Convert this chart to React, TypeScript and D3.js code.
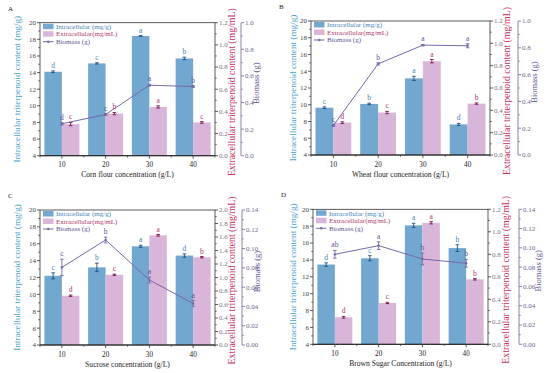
import React from "react";
import * as d3 from "d3";

// concentration levels shared by all four panels
const concentrations = [10, 20, 30, 40];
const minorX = [5, 15, 25, 35, 45];

// panel A - corn flour
const intraA = [14.1, 15.1, 18.4, 15.7];
const intraErrA = [0.1, 0.08, 0.05, 0.15];
const extraA = [0.285, 0.38, 0.44, 0.3];
const extraErrA = [0.015, 0.01, 0.01, 0.008];
const bioA = [0.24, 0.31, 0.53, 0.52];
const bioErrA = [0.008, 0.006, 0.006, 0.006];
const lettersIntraA = ["d", "c", "a", "b"];
const lettersExtraA = ["c", "b", "a", "c"];
const lettersBioA = ["d", "c", "a", "b"];

// panel B - wheat flour
const intraB = [9.65, 10.1, 13.15, 7.65];
const intraErrB = [0.1, 0.08, 0.25, 0.12];
const extraB = [0.29, 0.38, 0.84, 0.46];
const extraErrB = [0.008, 0.01, 0.015, 0.006];
const bioB = [0.22, 0.68, 0.82, 0.815];
const bioErrB = [0.006, 0.008, 0.005, 0.015];
const lettersIntraB = ["c", "b", "a", "d"];
const lettersExtraB = ["d", "c", "a", "b"];
const lettersBioB = ["c", "b", "a", "a"];

// panel C - sucrose
const intraC = [12.2, 13.2, 15.7, 14.6];
const intraErrC = [0.35, 0.5, 0.12, 0.2];
const extraC = [0.73, 1.04, 1.625, 1.3];
const extraErrC = [0.01, 0.01, 0.012, 0.01];
const bioC = [0.0805, 0.1089, 0.0674, 0.0431];
const bioErrC = [0.0085, 0.003, 0.003, 0.003];
const lettersIntraC = ["c", "b", "a", "d"];
const lettersExtraC = ["d", "c", "a", "b"];
const lettersBioC = ["c", "b", "a", "a"];

// panel D - brown sugar
const intraD = [13.45, 14.2, 18.1, 15.4];
const intraErrD = [0.2, 0.3, 0.25, 0.4];
const extraD = [0.24, 0.3675, 1.08, 0.5775];
const extraErrD = [0.008, 0.006, 0.01, 0.006];
const bioD = [0.0933, 0.1023, 0.0885, 0.084];
const bioErrD = [0.004, 0.004, 0.006, 0.004];
const lettersIntraD = ["d", "c", "a", "b"];
const lettersExtraD = ["d", "c", "a", "b"];
const lettersBioD = ["ab", "a", "b", "b"];

const BLUE = "#72a7d0";
const PINK = "#d9b5d9";
const PURPLE = "#7468a8";
const BLUE_TXT = "#3f86b8";
const PINK_TXT = "#b5336c";
const PURPLE_TXT = "#5e5495";
const FONT = "'Liberation Serif', 'Times New Roman', serif";

interface PanelProps {
  tag: string;
  xTitle: string;
  x0: number;
  y0: number;
  w: number;
  h: number;
  leftTitleOff: number;
  rightTitleOff: number;
  bioOff: number;
  bioTitleOff: number;
  extraMax: number;
  bioMax: number;
  bioStep: number;
  bioFmt: string;
  intra: number[];
  intraErr: number[];
  extra: number[];
  extraErr: number[];
  bio: number[];
  bioErr: number[];
  lIntra: string[];
  lExtra: string[];
  lBio: string[];
}

const Panel = (p: PanelProps) => {
  const x = d3.scaleLinear().domain([5, 45]).range([p.x0, p.x0 + p.w]);
  const yL = d3.scaleLinear().domain([4, 20]).range([p.y0 + p.h, p.y0]);
  const yR = d3.scaleLinear().domain([0, p.extraMax]).range([p.y0 + p.h, p.y0]);
  const yB = d3.scaleLinear().domain([0, p.bioMax]).range([p.y0 + p.h, p.y0]);
  const bw = x(9) - x(5);
  const bottom = p.y0 + p.h;
  const right = p.x0 + p.w;
  const bioX = right + p.bioOff;
  const midY = p.y0 + p.h / 2;

  const leftTicks = d3.range(4, 20.01, 2);
  const leftMinor = d3.range(5, 20, 2);
  const rightTicks = d3.range(0, p.extraMax + 0.001, 0.2);
  const rightMinor = d3.range(0.1, p.extraMax, 0.2);
  const bioTicks = d3.range(0, p.bioMax + p.bioStep / 10, p.bioStep);
  const bioMinor = d3.range(p.bioStep / 2, p.bioMax, p.bioStep);
  const fR = d3.format(".1f");
  const fB = d3.format(p.bioFmt);

  const line = d3
    .line<number>()
    .x((_, i) => x(concentrations[i]))
    .y((d) => yB(d));

  const errBar = (cx: number, lo: number, hi: number, color: string, key: string) => (
    <g key={key} stroke={color} strokeWidth={0.9}>
      <line x1={cx} x2={cx} y1={lo} y2={hi} />
      <line x1={cx - 1.8} x2={cx + 1.8} y1={lo} y2={lo} />
      <line x1={cx - 1.8} x2={cx + 1.8} y1={hi} y2={hi} />
    </g>
  );

  return (
    <g fontFamily={FONT}>
      <text x={p.x0 - 32} y={p.y0 - 12} fontSize={7} fill="#222">
        {p.tag}
      </text>

      {/* bars */}
      {concentrations.map((c, i) => (
        <g key={"b" + c}>
          <rect x={x(c) - bw} y={yL(p.intra[i])} width={bw} height={bottom - yL(p.intra[i])} fill={BLUE} />
          <rect x={x(c)} y={yR(p.extra[i])} width={bw} height={bottom - yR(p.extra[i])} fill={PINK} />
        </g>
      ))}

      {/* error bars */}
      {concentrations.map((c, i) =>
        errBar(x(c) - bw / 2, yL(p.intra[i] - p.intraErr[i]), yL(p.intra[i] + p.intraErr[i]), "#1d4f80", "ei" + c)
      )}
      {concentrations.map((c, i) =>
        errBar(x(c) + bw / 2, yR(p.extra[i] - p.extraErr[i]), yR(p.extra[i] + p.extraErr[i]), "#7a1546", "ee" + c)
      )}

      {/* biomass */}
      <path d={line(p.bio) ?? ""} fill="none" stroke={PURPLE} strokeWidth={1} />
      {concentrations.map((c, i) =>
        errBar(x(c), yB(p.bio[i] - p.bioErr[i]), yB(p.bio[i] + p.bioErr[i]), PURPLE, "eb" + c)
      )}
      {concentrations.map((c, i) => (
        <circle key={"m" + c} cx={x(c)} cy={yB(p.bio[i])} r={1.2} fill={PURPLE} />
      ))}

      {/* letters */}
      {concentrations.map((c, i) => (
        <g key={"l" + c} fontSize={7.5} textAnchor="middle">
          <text x={x(c) - bw / 2} y={yL(p.intra[i] + p.intraErr[i]) - 3} fill={BLUE_TXT}>
            {p.lIntra[i]}
          </text>
          <text x={x(c) + bw / 2} y={yR(p.extra[i] + p.extraErr[i]) - 3} fill={PINK_TXT}>
            {p.lExtra[i]}
          </text>
          <text x={x(c)} y={yB(p.bio[i] + p.bioErr[i]) - 3} fill={PURPLE_TXT}>
            {p.lBio[i]}
          </text>
        </g>
      ))}

      {/* frame */}
      <rect x={p.x0} y={p.y0} width={p.w} height={p.h} fill="none" stroke="#333" strokeWidth={0.8} />
      <line x1={p.x0} x2={right} y1={bottom} y2={bottom} stroke="#222" strokeWidth={1.1} />

      {/* x axis */}
      {concentrations.map((c) => (
        <g key={"xt" + c}>
          <line x1={x(c)} x2={x(c)} y1={bottom} y2={bottom + 3} stroke="#333" strokeWidth={0.8} />
          <text x={x(c)} y={bottom + 11.5} fontSize={7.2} textAnchor="middle" fill="#222">
            {c}
          </text>
        </g>
      ))}
      {minorX.map((c) => (
        <line key={"xm" + c} x1={x(c)} x2={x(c)} y1={bottom} y2={bottom + 1.8} stroke="#333" strokeWidth={0.7} />
      ))}
      <text x={p.x0 + p.w / 2} y={bottom + 21.5} fontSize={7.6} textAnchor="middle" fill="#222">
        {p.xTitle}
      </text>

      {/* left axis */}
      {leftTicks.map((t) => (
        <g key={"lt" + t}>
          <line x1={p.x0 - 3} x2={p.x0} y1={yL(t)} y2={yL(t)} stroke="#333" strokeWidth={0.8} />
          <text x={p.x0 - 4} y={yL(t) + 2.4} fontSize={7} textAnchor="end" fill="#444">
            {t}
          </text>
        </g>
      ))}
      {leftMinor.map((t) => (
        <line key={"lm" + t} x1={p.x0 - 1.8} x2={p.x0} y1={yL(t)} y2={yL(t)} stroke="#333" strokeWidth={0.7} />
      ))}
      <text
        transform={`translate(${p.x0 - p.leftTitleOff},${midY}) rotate(-90)`}
        fontSize={9.2}
        textAnchor="middle"
        fill="#4ba3cf"
      >
        Intracellular triterpenoid content (mg/g)
      </text>

      {/* right axis - extracellular */}
      {rightTicks.map((t) => (
        <g key={"rt" + t}>
          <line x1={right} x2={right + 3} y1={yR(t)} y2={yR(t)} stroke="#333" strokeWidth={0.8} />
          <text x={right + 4} y={yR(t) + 2.4} fontSize={7} fill="#7d6f8a">
            {fR(t)}
          </text>
        </g>
      ))}
      {rightMinor.map((t) => (
        <line key={"rm" + t} x1={right} x2={right + 1.8} y1={yR(t)} y2={yR(t)} stroke="#333" strokeWidth={0.7} />
      ))}
      <text
        transform={`translate(${right + p.rightTitleOff},${midY + 3}) rotate(-90)`}
        fontSize={9.8}
        textAnchor="middle"
        fill="#c8325e"
      >
        Extracellular triterpenoid content (mg/mL)
      </text>

      {/* biomass axis */}
      <line x1={bioX} x2={bioX} y1={p.y0} y2={bottom} stroke="#6d6590" strokeWidth={0.8} />
      {bioTicks.map((t) => (
        <g key={"bt" + t}>
          <line x1={bioX} x2={bioX + 3} y1={yB(t)} y2={yB(t)} stroke="#6d6590" strokeWidth={0.8} />
          <text x={bioX + 4} y={yB(t) + 2.4} fontSize={7} fill="#6d6590">
            {fB(t)}
          </text>
        </g>
      ))}
      {bioMinor.map((t) => (
        <line key={"bm" + t} x1={bioX} x2={bioX + 1.8} y1={yB(t)} y2={yB(t)} stroke="#6d6590" strokeWidth={0.7} />
      ))}
      <text
        transform={`translate(${right + p.bioTitleOff},${midY - 6}) rotate(-90)`}
        fontSize={8.5}
        textAnchor="middle"
        fill="#5e5495"
      >
        Biomass (g)
      </text>

      {/* legend */}
      <g fontSize={7}>
        <rect x={p.x0 + 3} y={p.y0 + 1} width={10.5} height={5.5} fill={BLUE} />
        <text x={p.x0 + 16} y={p.y0 + 6.2} fill={BLUE_TXT}>
          Intracellular (mg/g)
        </text>
        <rect x={p.x0 + 3} y={p.y0 + 8.5} width={10.5} height={5.5} fill={PINK} />
        <text x={p.x0 + 16} y={p.y0 + 13.7} fill={PINK_TXT}>
          Extracellular(mg/mL)
        </text>
        <line x1={p.x0 + 3} x2={p.x0 + 13.5} y1={p.y0 + 19} y2={p.y0 + 19} stroke={PURPLE} strokeWidth={1} />
        <circle cx={p.x0 + 8.25} cy={p.y0 + 19} r={1.2} fill={PURPLE} />
        <text x={p.x0 + 16} y={p.y0 + 21.2} fill={PURPLE_TXT}>
          Biomass (g)
        </text>
      </g>
    </g>
  );
};

export default function App() {
  return (
    <svg
      width={550}
      height={373}
      viewBox="0 0 550 373"
      style={{ position: "absolute", left: 0, top: 0, background: "#fff" }}
    >
      <Panel
        tag="A"
        xTitle="Corn flour concentration (g/L)"
        x0={40} y0={22.7} w={175} h={133}
        leftTitleOff={20} rightTitleOff={19.5} bioOff={26} bioTitleOff={44}
        extraMax={1.2} bioMax={1.0} bioStep={0.2} bioFmt=".1f"
        intra={intraA} intraErr={intraErrA} extra={extraA} extraErr={extraErrA}
        bio={bioA} bioErr={bioErrA}
        lIntra={lettersIntraA} lExtra={lettersExtraA} lBio={lettersBioA}
      />
      <Panel
        tag="B"
        xTitle="Wheat flour concentration (g/L)"
        x0={311} y0={21} w={179} h={134}
        leftTitleOff={15} rightTitleOff={19.5} bioOff={28} bioTitleOff={47}
        extraMax={1.2} bioMax={1.0} bioStep={0.2} bioFmt=".1f"
        intra={intraB} intraErr={intraErrB} extra={extraB} extraErr={extraErrB}
        bio={bioB} bioErr={bioErrB}
        lIntra={lettersIntraB} lExtra={lettersExtraB} lBio={lettersBioB}
      />
      <Panel
        tag="C"
        xTitle="Sucrose concentration (g/L)"
        x0={40} y0={210} w={175} h={135}
        leftTitleOff={20} rightTitleOff={19.5} bioOff={27} bioTitleOff={45}
        extraMax={2.0} bioMax={0.14} bioStep={0.02} bioFmt=".2f"
        intra={intraC} intraErr={intraErrC} extra={extraC} extraErr={extraErrC}
        bio={bioC} bioErr={bioErrC}
        lIntra={lettersIntraC} lExtra={lettersExtraC} lBio={lettersBioC}
      />
      <Panel
        tag="D"
        xTitle="Brown Sugar Concentration (g/L)"
        x0={313} y0={209.3} w={175} h={135}
        leftTitleOff={17} rightTitleOff={21} bioOff={31} bioTitleOff={53}
        extraMax={1.2} bioMax={0.14} bioStep={0.02} bioFmt=".2f"
        intra={intraD} intraErr={intraErrD} extra={extraD} extraErr={extraErrD}
        bio={bioD} bioErr={bioErrD}
        lIntra={lettersIntraD} lExtra={lettersExtraD} lBio={lettersBioD}
      />
    </svg>
  );
}
